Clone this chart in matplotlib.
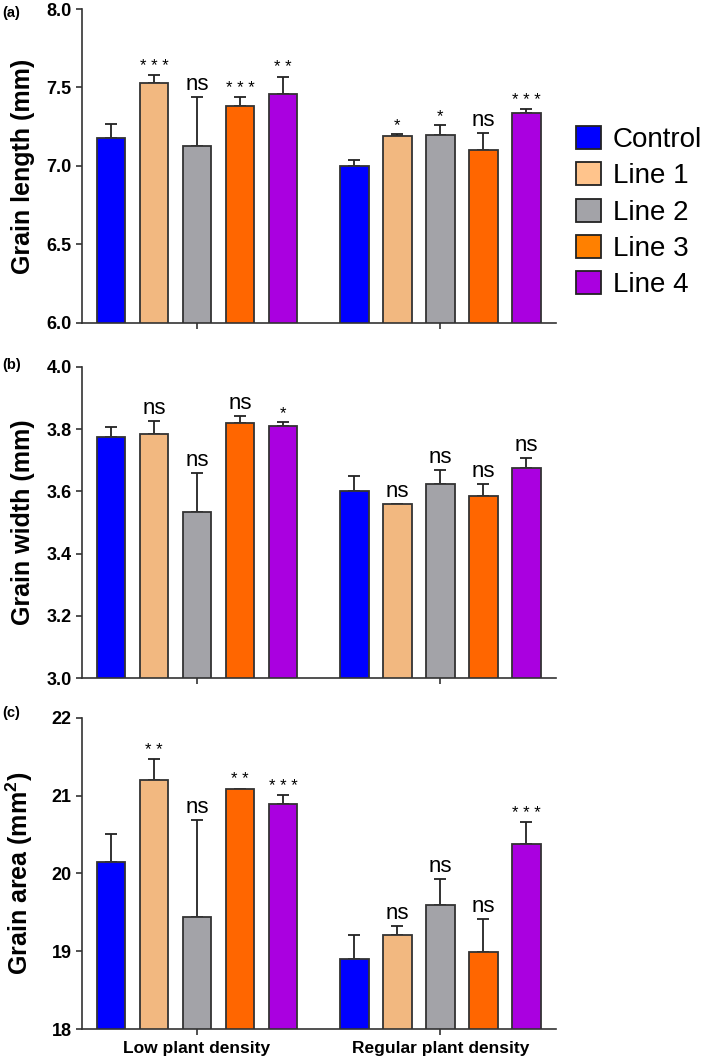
import numpy as np
import matplotlib.pyplot as plt
from matplotlib.patches import Patch

plt.rcParams['font.family'] = ['Liberation Sans', 'DejaVu Sans']
plt.rcParams['mathtext.fontset'] = 'custom'
plt.rcParams['mathtext.rm'] = 'Liberation Sans'
plt.rcParams['mathtext.bf'] = 'Liberation Sans:bold'

# data
groups = ['Low plant density', 'Regular plant density']
lines = ['Control', 'Line 1', 'Line 2', 'Line 3', 'Line 4']
colors = ['#0000FF', '#F2B880', '#A3A3A8', '#FF6600', '#AA00E0']
leg_colors = ['#0000FF', '#FFC48C', '#A3A3A8', '#FF8000', '#AA00E0']

length_low = [7.18, 7.53, 7.13, 7.38, 7.46]
length_low_err = [0.09, 0.05, 0.31, 0.06, 0.11]
length_reg = [7.00, 7.19, 7.20, 7.10, 7.335]
length_reg_err = [0.04, 0.015, 0.06, 0.11, 0.025]
length_sig_low = ['', '***', 'ns', '***', '**']
length_sig_reg = ['', '*', '*', 'ns', '***']

width_low = [3.774, 3.783, 3.534, 3.819, 3.811]
width_low_err = [0.032, 0.043, 0.124, 0.024, 0.012]
width_reg = [3.602, 3.559, 3.623, 3.585, 3.674]
width_reg_err = [0.046, 0.002, 0.045, 0.038, 0.032]
width_sig_low = ['', 'ns', 'ns', 'ns', '*']
width_sig_reg = ['', 'ns', 'ns', 'ns', 'ns']

area_low = [20.15, 21.196, 19.44, 21.08, 20.89]
area_low_err = [0.36, 0.27, 1.25, 0.01, 0.12]
area_reg = [18.90, 19.21, 19.60, 18.99, 20.38]
area_reg_err = [0.31, 0.12, 0.33, 0.42, 0.28]
area_sig_low = ['', '**', 'ns', '**', '***']
area_sig_reg = ['', 'ns', 'ns', 'ns', '***']

panels = [
    ('(a)', 'Grain length (mm)', (6.0, 8.0), np.arange(6.0, 8.01, 0.5), '%.1f',
     length_low, length_low_err, length_reg, length_reg_err, length_sig_low, length_sig_reg),
    ('(b)', 'Grain width (mm)', (3.0, 4.0), np.arange(3.0, 4.01, 0.2), '%.1f',
     width_low, width_low_err, width_reg, width_reg_err, width_sig_low, width_sig_reg),
    ('(c)', r'Grain area (mm$^{\mathbf{2}}$)', (18, 22), np.arange(18, 22.01, 1), '%d',
     area_low, area_low_err, area_reg, area_reg_err, area_sig_low, area_sig_reg),
]

centers = [0.0, 5.66]
offs = np.arange(5) - 2

fig = plt.figure(figsize=(7.09, 10.59), dpi=100)
boxes = [(0.1157, 0.695, 0.6686, 0.2965),
         (0.1157, 0.3595, 0.6686, 0.2942),
         (0.1157, 0.0281, 0.6686, 0.2942)]
label_y = [0.988, 0.655, 0.327]

for k, (tag, ylab, ylim, yt, fmt, lo, loe, rg, rge, slo, srg) in enumerate(panels):
    ax = fig.add_axes(boxes[k])
    for c, vals, errs, sig in [(centers[0], lo, loe, slo), (centers[1], rg, rge, srg)]:
        xs = c + offs
        ax.bar(xs, vals, width=0.67, color=colors, edgecolor='#333333', linewidth=1.3,
               zorder=2)
        ax.errorbar(xs, vals, yerr=[np.zeros(5), errs], fmt='none', ecolor='#222222',
                    elinewidth=1.3, capsize=4.5, capthick=1.3, zorder=1)
        for x, v, e, s in zip(xs, vals, errs, sig):
            if not s:
                continue
            if s == 'ns':
                ax.annotate(s, (x, v + e), xytext=(0, 5), textcoords='offset points',
                            ha='center', va='baseline', fontsize=16)
            else:
                ax.annotate(' '.join(s), (x, v + e), xytext=(0, 3), textcoords='offset points',
                            ha='center', va='baseline', fontsize=12)
    ax.set_xlim(-2.674, 8.35)
    ax.set_ylim(*ylim)
    ax.set_yticks(yt)
    ax.set_yticklabels([fmt % t for t in yt], fontsize=13, fontweight='bold')
    ax.set_xticks(centers)
    if k == 2:
        ax.set_xticklabels(groups, fontsize=12.5, fontweight='bold')
    else:
        ax.set_xticklabels(['', ''])
    for s in ['top', 'right']:
        ax.spines[s].set_visible(False)
    for s in ['left', 'bottom']:
        ax.spines[s].set_linewidth(1.2)
        ax.spines[s].set_color('#333333')
    ax.tick_params(axis='y', length=4, width=1.2, color='#333333', pad=3.5)
    ax.tick_params(axis='x', length=4.5, width=1.2, color='#333333', pad=4)
    ax.set_ylabel(ylab, fontsize=18, fontweight='bold')
    ax.yaxis.set_label_coords(-0.1, 0.5)
    fig.text(0.003, label_y[k], tag, fontsize=10.5, fontweight='bold', va='center')

handles = [Patch(facecolor=c, edgecolor='#222222', linewidth=1.3) for c in leg_colors]
fig.legend(handles, lines, loc='upper left', bbox_to_anchor=(0.813, 0.881),
           frameon=False, fontsize=20, handlelength=0.9, handleheight=0.9,
           handletextpad=0.4, labelspacing=0.33, borderpad=0, borderaxespad=0)

fig.savefig('out.png', dpi=100)
